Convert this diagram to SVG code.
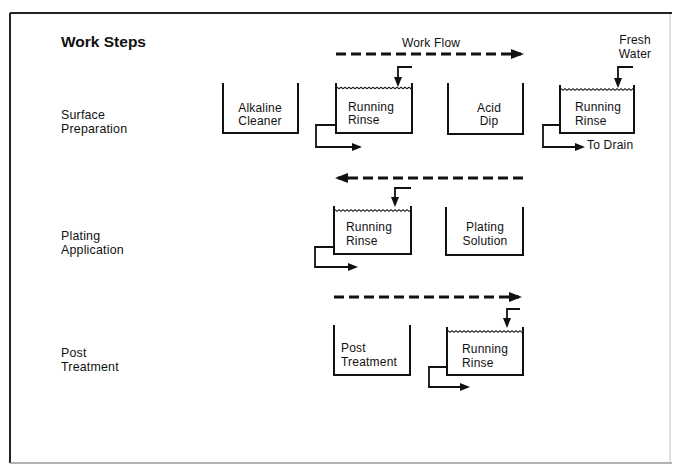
<svg xmlns="http://www.w3.org/2000/svg" width="674" height="466" viewBox="0 0 674 466">
<defs>
<style>
text{font-family:"Liberation Sans",Arial,Helvetica,sans-serif;fill:#111;font-size:12px;letter-spacing:0.2px}
.title{font-weight:bold;font-size:15.5px;letter-spacing:0}
.side{font-size:12.4px}
.tank{fill:none;stroke:#111;stroke-width:2}
.wave{fill:none;stroke:#111;stroke-width:1.2}
.pipe{fill:none;stroke:#111;stroke-width:1.8}
.flow{fill:none;stroke:#111;stroke-width:3;stroke-dasharray:10 5}
.mid{text-anchor:middle}
</style>
<marker id="bigArrow" markerUnits="userSpaceOnUse" markerWidth="14" markerHeight="12" refX="10" refY="5" orient="auto">
<path d="M0,0 L13,5 L0,10 z" fill="#111"/>
</marker>
<marker id="smallArrow" markerUnits="userSpaceOnUse" markerWidth="12" markerHeight="10" refX="8" refY="4" orient="auto">
<path d="M0,0 L10,4 L0,8 z" fill="#111"/>
</marker>
</defs>
<rect width="674" height="466" fill="#fff"/>
<g id="frame">
<path d="M10,13 H672" stroke="#222" stroke-width="2" fill="none"/>
<path d="M10,13 V463" stroke="#222" stroke-width="2" fill="none"/>
<path d="M10,463 H672" stroke="#999" stroke-width="1.5" fill="none"/>
<path d="M670,14 V462" stroke="#ccc" stroke-width="1.2" fill="none"/>
</g>
<g id="step-labels">
<text class="title" x="61" y="47">Work Steps</text>
<text class="side" x="61" y="118.5">Surface</text>
<text class="side" x="61" y="132.5">Preparation</text>
<text class="side" x="61" y="239.5">Plating</text>
<text class="side" x="61" y="253.5">Application</text>
<text class="side" x="61" y="357">Post</text>
<text class="side" x="61" y="371">Treatment</text>
</g>
<g id="alkaline-cleaner">
<path class="tank" d="M223,83 V133 H298 V83"/>
<text class="mid" x="260" y="111.5">Alkaline</text>
<text class="mid" x="260" y="125">Cleaner</text>
</g>
<g id="running-rinse-1">
<path class="tank" d="M336,83 V133 H412 V83"/>
<path class="wave" d="M336,88 q1,-1.5 2,0 t2,0 t2,0 t2,0 t2,0 t2,0 t2,0 t2,0 t2,0 t2,0 t2,0 t2,0 t2,0 t2,0 t2,0 t2,0 t2,0 t2,0 t2,0 t2,0 t2,0 t2,0 t2,0 t2,0 t2,0 t2,0 t2,0 t2,0 t2,0 t2,0 t2,0 t2,0 t2,0 t2,0 t2,0 t2,0 t2,0 t2,0"/>
<text x="348" y="110.5">Running</text>
<text x="348" y="124">Rinse</text>
</g>
<g id="acid-dip">
<path class="tank" d="M448,83 V134 H523 V83"/>
<text class="mid" x="489" y="111.5">Acid</text>
<text class="mid" x="489" y="125">Dip</text>
</g>
<g id="running-rinse-2">
<path class="tank" d="M560,85 V133 H634 V85"/>
<path class="wave" d="M560,89.5 q1,-1.5 2,0 t2,0 t2,0 t2,0 t2,0 t2,0 t2,0 t2,0 t2,0 t2,0 t2,0 t2,0 t2,0 t2,0 t2,0 t2,0 t2,0 t2,0 t2,0 t2,0 t2,0 t2,0 t2,0 t2,0 t2,0 t2,0 t2,0 t2,0 t2,0 t2,0 t2,0 t2,0 t2,0 t2,0 t2,0 t2,0 t2,0"/>
<text x="575" y="111">Running</text>
<text x="575" y="124.5">Rinse</text>
</g>
<g id="fresh-water">
<text class="mid" x="635" y="44">Fresh</text>
<text class="mid" x="635" y="57.5">Water</text>
</g>
<g id="to-drain">
<text x="587" y="149">To Drain</text>
</g>
<g id="running-rinse-3">
<path class="tank" d="M334,206 V254 H411 V206"/>
<path class="wave" d="M334,210.5 q1,-1.5 2,0 t2,0 t2,0 t2,0 t2,0 t2,0 t2,0 t2,0 t2,0 t2,0 t2,0 t2,0 t2,0 t2,0 t2,0 t2,0 t2,0 t2,0 t2,0 t2,0 t2,0 t2,0 t2,0 t2,0 t2,0 t2,0 t2,0 t2,0 t2,0 t2,0 t2,0 t2,0 t2,0 t2,0 t2,0 t2,0 t2,0 t2,0"/>
<text x="346" y="231">Running</text>
<text x="346" y="244.5">Rinse</text>
</g>
<g id="plating-solution">
<path class="tank" d="M446,207 V255 H523 V207"/>
<text class="mid" x="485" y="231">Plating</text>
<text class="mid" x="485" y="244.5">Solution</text>
</g>
<g id="post-treatment">
<path class="tank" d="M334,325 V375 H410 V325"/>
<text x="341" y="352">Post</text>
<text x="341" y="365.5">Treatment</text>
</g>
<g id="running-rinse-4">
<path class="tank" d="M447,327 V375 H523 V327"/>
<path class="wave" d="M447,331.5 q1,-1.5 2,0 t2,0 t2,0 t2,0 t2,0 t2,0 t2,0 t2,0 t2,0 t2,0 t2,0 t2,0 t2,0 t2,0 t2,0 t2,0 t2,0 t2,0 t2,0 t2,0 t2,0 t2,0 t2,0 t2,0 t2,0 t2,0 t2,0 t2,0 t2,0 t2,0 t2,0 t2,0 t2,0 t2,0 t2,0 t2,0 t2,0 t2,0"/>
<text x="462" y="353">Running</text>
<text x="462" y="366.5">Rinse</text>
</g>
<g id="connectors">
<path class="flow" d="M336,54 H521" marker-end="url(#bigArrow)"/>
<text class="mid" x="431" y="47">Work Flow</text>
<path class="flow" d="M523,178 H338" marker-end="url(#bigArrow)"/>
<path class="flow" d="M334,297 H519" marker-end="url(#bigArrow)"/>
<path class="pipe" d="M412,67 H398 V85" marker-end="url(#smallArrow)"/>
<path class="pipe" d="M633,67 H618 V86" marker-end="url(#smallArrow)"/>
<path class="pipe" d="M411,188 H395 V205" marker-end="url(#smallArrow)"/>
<path class="pipe" d="M520,309 H507 V326" marker-end="url(#smallArrow)"/>
<path class="pipe" d="M336,125 H316 V147 H360" marker-end="url(#smallArrow)"/>
<path class="pipe" d="M560,125 H543 V147 H583" marker-end="url(#smallArrow)"/>
<path class="pipe" d="M334,247 H315 V267 H356" marker-end="url(#smallArrow)"/>
<path class="pipe" d="M447,367 H429 V387 H468" marker-end="url(#smallArrow)"/>
</g>
</svg>
